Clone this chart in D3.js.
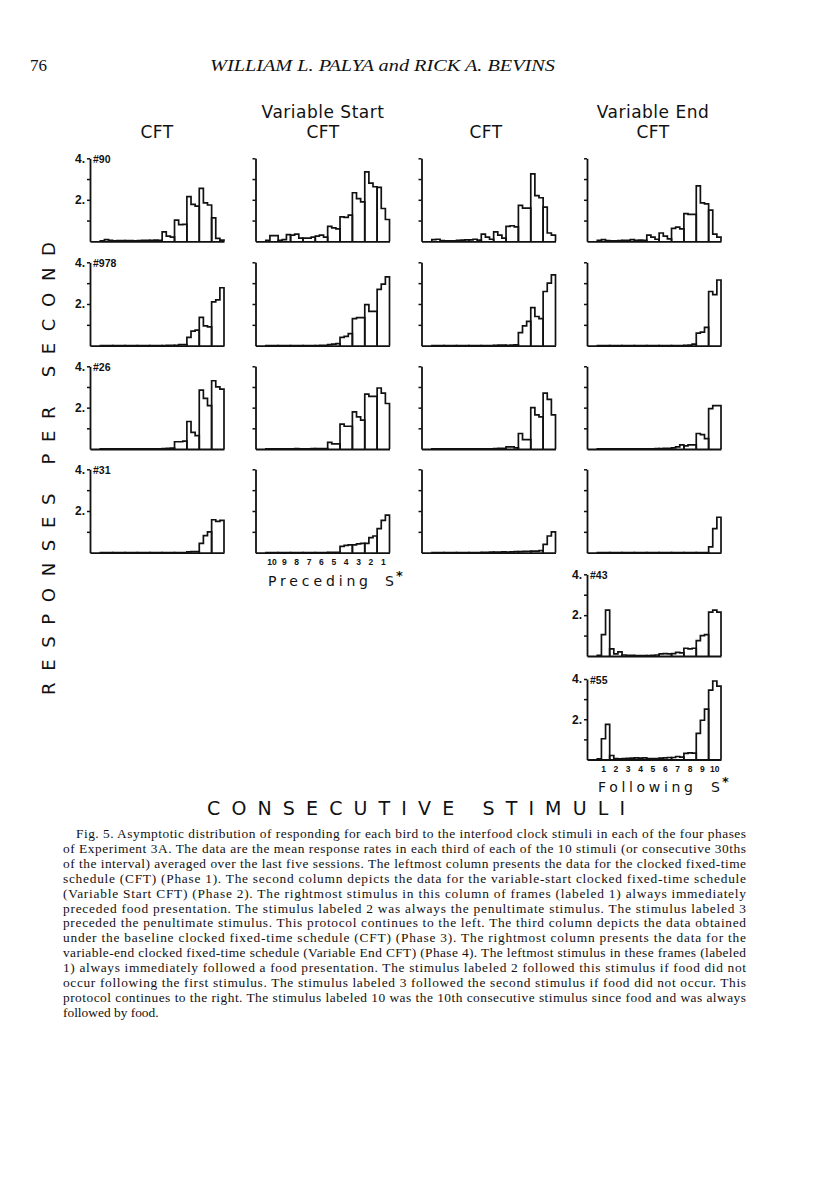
<!DOCTYPE html>
<html>
<head>
<meta charset="utf-8">
<script src="https://cdn.jsdelivr.net/npm/d3@7/dist/d3.min.js"></script>
<style>
body { margin: 0; background: #fff; }
svg text { fill: #111; }
</style>
</head>
<body>
<svg id="svg" width="816" height="1193"></svg>
<script>
// response rates per third of each stimulus (30 bins), leftmost stimulus first
var b90_cft    = [0.02,0.08,0.05, 0.02,0.03,0.03, 0.03,0.03,0.02, 0.03,0.05,0.04, 0.04,0.06,0.05, 0.45,0.25,0.20, 1.02,0.80,0.82, 2.15,1.78,1.70, 2.55,1.85,1.75, 1.13,0.14,0.06];
var b90_vstart = [0.05,0.27,0.27, 0.05,0.08,0.32, 0.30,0.35,0.15, 0.15,0.15,0.20, 0.25,0.30,0.20, 0.72,0.65,0.60, 1.18,1.15,1.26, 2.34,2.06,1.90, 3.35,2.80,2.63, 2.60,1.58,1.05];
var b90_cft2   = [0.08,0.10,0.03, 0.02,0.02,0.02, 0.05,0.06,0.07, 0.07,0.10,0.06, 0.35,0.20,0.10, 0.45,0.30,0.15, 0.72,0.75,0.70, 1.73,1.60,1.60, 3.25,2.20,2.10, 1.65,0.40,0.30];
var b90_vend   = [0.05,0.08,0.03, 0.02,0.02,0.03, 0.05,0.05,0.08, 0.05,0.06,0.05, 0.30,0.20,0.10, 0.40,0.25,0.12, 0.62,0.68,0.60, 1.33,1.30,1.30, 2.67,1.85,1.80, 1.50,0.35,0.20];

var b978_cft    = [0.01,0.01,0.01, 0.01,0.01,0.01, 0.01,0.01,0.01, 0.01,0.01,0.01, 0.01,0.01,0.01, 0.01,0.02,0.02, 0.02,0.05,0.05, 0.40,0.70,0.75, 1.36,0.95,0.90, 2.10,2.20,2.78];
var b978_vstart = [0.01,0.01,0.01, 0.01,0.01,0.01, 0.01,0.01,0.01, 0.01,0.01,0.01, 0.01,0.02,0.02, 0.05,0.08,0.10, 0.40,0.45,0.58, 1.30,1.35,1.35, 1.97,1.65,1.65, 2.70,2.95,3.30];
var b978_cft2   = [0.01,0.01,0.01, 0.01,0.01,0.01, 0.01,0.01,0.01, 0.01,0.01,0.01, 0.01,0.01,0.01, 0.02,0.03,0.03, 0.02,0.03,0.04, 0.63,0.95,1.17, 1.83,1.40,1.30, 2.60,3.00,3.40];
var b978_vend   = [0.01,0.01,0.01, 0.01,0.01,0.01, 0.01,0.01,0.01, 0.01,0.01,0.01, 0.01,0.01,0.01, 0.01,0.01,0.01, 0.01,0.01,0.01, 0.02,0.03,0.08, 0.60,0.65,0.88, 2.60,2.45,3.15];

var b26_cft    = [0.01,0.01,0.01, 0.01,0.01,0.01, 0.01,0.01,0.01, 0.01,0.01,0.01, 0.01,0.01,0.01, 0.02,0.03,0.04, 0.35,0.35,0.38, 1.33,0.80,0.65, 2.85,2.45,2.10, 3.30,3.00,2.90];
var b26_vstart = [0.01,0.01,0.01, 0.01,0.01,0.01, 0.01,0.02,0.01, 0.01,0.01,0.02, 0.02,0.02,0.02, 0.32,0.25,0.25, 1.20,1.10,1.10, 1.80,1.55,1.40, 2.65,2.55,2.55, 2.95,2.70,2.20];
var b26_cft2   = [0.01,0.01,0.01, 0.01,0.01,0.01, 0.01,0.01,0.01, 0.01,0.01,0.01, 0.01,0.01,0.01, 0.02,0.03,0.03, 0.10,0.10,0.05, 0.75,0.45,0.45, 2.00,1.65,1.55, 2.70,2.40,1.65];
var b26_vend   = [0.01,0.01,0.01, 0.01,0.01,0.01, 0.01,0.01,0.01, 0.01,0.01,0.01, 0.01,0.01,0.02, 0.02,0.03,0.03, 0.05,0.10,0.20, 0.15,0.20,0.20, 0.75,0.70,0.50, 1.95,2.10,2.10];

var b31_cft    = [0.01,0.01,0.01, 0.01,0.01,0.01, 0.01,0.01,0.01, 0.01,0.01,0.01, 0.01,0.01,0.01, 0.01,0.01,0.01, 0.01,0.01,0.01, 0.04,0.05,0.05, 0.45,0.82,1.00, 1.58,1.50,1.55];
var b31_vstart = [0.01,0.01,0.01, 0.01,0.01,0.01, 0.01,0.01,0.01, 0.01,0.01,0.01, 0.01,0.01,0.01, 0.02,0.02,0.02, 0.30,0.35,0.38, 0.38,0.42,0.45, 0.45,0.72,0.80, 1.15,1.55,1.80];
var b31_cft2   = [0.01,0.01,0.01, 0.01,0.01,0.01, 0.01,0.01,0.01, 0.01,0.01,0.01, 0.02,0.02,0.03, 0.03,0.03,0.04, 0.03,0.04,0.05, 0.05,0.06,0.07, 0.08,0.08,0.10, 0.40,0.80,1.00];
var b31_vend   = [0.01,0.01,0.01, 0.01,0.01,0.01, 0.01,0.01,0.01, 0.01,0.01,0.01, 0.01,0.01,0.01, 0.01,0.01,0.01, 0.01,0.01,0.01, 0.01,0.01,0.01, 0.01,0.01,0.01, 0.28,1.15,1.70];

var b43_vend = [0.03,1.05,2.25, 0.35,0.10,0.20, 0.05,0.03,0.03, 0.02,0.02,0.02, 0.02,0.03,0.05, 0.10,0.12,0.10, 0.12,0.18,0.15, 0.38,0.35,0.38, 0.75,1.00,1.05, 2.15,2.25,2.15];
var b55_vend = [0.03,1.03,1.75, 0.20,0.05,0.03, 0.05,0.06,0.07, 0.08,0.07,0.08, 0.05,0.04,0.05, 0.07,0.08,0.10, 0.10,0.15,0.12, 0.30,0.33,0.32, 1.30,1.95,2.50, 3.45,3.90,3.65];

var precedingLabels = ['10','9','8','7','6','5','4','3','2','1'];
var followingLabels = ['1','2','3','4','5','6','7','8','9','10'];
var yTicks = [1, 2, 3, 4];
var yLabelTicks = [2, 4];

// layout
var colLeft = [90, 255.5, 421.5, 587];
var panelW = 134;
var rowTop = [158.3, 262.3, 366.3, 469.3, 574.3, 679];
var rowBase = [241.3, 345.7, 449, 552.7, 656, 759.5];

var panels = [
    {row:0, col:0, data:b90_cft, bird:'#90'},
    {row:0, col:1, data:b90_vstart},
    {row:0, col:2, data:b90_cft2},
    {row:0, col:3, data:b90_vend},
    {row:1, col:0, data:b978_cft, bird:'#978'},
    {row:1, col:1, data:b978_vstart},
    {row:1, col:2, data:b978_cft2},
    {row:1, col:3, data:b978_vend},
    {row:2, col:0, data:b26_cft, bird:'#26'},
    {row:2, col:1, data:b26_vstart},
    {row:2, col:2, data:b26_cft2},
    {row:2, col:3, data:b26_vend},
    {row:3, col:0, data:b31_cft, bird:'#31'},
    {row:3, col:1, data:b31_vstart, xlabels:precedingLabels},
    {row:3, col:2, data:b31_cft2},
    {row:3, col:3, data:b31_vend},
    {row:4, col:3, data:b43_vend, bird:'#43'},
    {row:5, col:3, data:b55_vend, bird:'#55', xlabels:followingLabels}
];

var svg = d3.select('svg');
svg.append('rect').attr('width', 816).attr('height', 1193).attr('fill', '#fff');

var sans = "'DejaVu Sans', 'Liberation Sans', sans-serif";
var serif = "'Liberation Serif', 'DejaVu Serif', serif";
var boldSans = "'Liberation Sans', Arial, sans-serif";

panels.forEach(function(p){
    var top = rowTop[p.row], h = rowBase[p.row] - top;
    var x = d3.scaleLinear().domain([-2.5, 30]).range([0, panelW]);
    var y = d3.scaleLinear().domain([0, 4]).range([h, 0]);
    var g = svg.append('g').attr('transform', 'translate(' + colLeft[p.col] + ',' + top + ')');
    var showLabels = !!p.bird;

    var yAxis = g.append('g')
        .call(d3.axisLeft(y).tickValues(yTicks).tickSize(3).tickSizeOuter(0).tickPadding(2)
            .tickFormat(function(d){ return showLabels && yLabelTicks.indexOf(d) >= 0 ? d + '.' : ''; }));
    yAxis.select('.domain').attr('stroke', '#111').attr('stroke-width', 1.8);
    yAxis.selectAll('.tick line').attr('stroke', '#111').attr('stroke-width', 1.5);
    yAxis.selectAll('.tick text')
        .style('font-family', boldSans)
        .style('font-weight', 'bold').style('font-size', '12px').attr('fill', '#111');

    var xAxis = g.append('g').attr('transform', 'translate(0,' + h + ')')
        .call(d3.axisBottom(x).tickValues([]).tickSizeOuter(0));
    xAxis.select('.domain').attr('stroke', '#111').attr('stroke-width', 1.8);

    // one closed step outline per stimulus
    var line = d3.line()
        .x(function(d){ return x(d[0]); })
        .y(function(d){ return y(d[1]); })
        .curve(d3.curveStepAfter);
    for (var s = 0; s < 10; s++) {
        var v = p.data.slice(s * 3, s * 3 + 3);
        var pts = [[s*3, 0], [s*3, v[0]], [s*3+1, v[1]], [s*3+2, v[2]], [s*3+3, 0]];
        g.append('path').attr('d', line(pts))
            .attr('fill', 'none').attr('stroke', '#111')
            .attr('stroke-width', 1.7).attr('stroke-linejoin', 'miter');
    }

    if (p.bird) {
        g.append('text').text(p.bird)
            .attr('x', 3).attr('y', 4.5)
            .style('font-family', boldSans)
            .style('font-weight', 'bold').style('font-size', '10.5px');
    }

    if (p.xlabels) {
        g.selectAll('text.stim')
            .data(p.xlabels)
            .enter()
            .append('text')
            .attr('class', 'stim')
            .attr('x', function(d, i){ return x(i * 3 + 1.5); })
            .attr('y', h + 12.5)
            .attr('text-anchor', 'middle')
            .style('font-family', boldSans)
            .style('font-weight', 'bold').style('font-size', '8.5px')
            .text(function(d){ return d; });
    }
});

// axis captions under the stimulus labels
function sLabel(word, x0, len, base, sx, ax){
    svg.append('text').text(word)
        .attr('x', x0).attr('y', base)
        .attr('textLength', len).attr('lengthAdjust', 'spacing')
        .style('font-family', sans).style('font-size', '14px');
    svg.append('text').text('S')
        .attr('x', sx).attr('y', base)
        .style('font-family', sans).style('font-size', '14px');
    svg.append('text').text('*')
        .attr('x', ax).attr('y', base - 6)
        .style('font-family', sans).style('font-weight', 'bold').style('font-size', '13px');
}
sLabel('Preceding', 268, 100, 586, 385, 396);
sLabel('Following', 598, 95, 792, 711, 722);

// column titles
var titles = [
    {t:'CFT', x:157, y:138},
    {t:'Variable Start', x:323, y:118},
    {t:'CFT', x:323, y:138},
    {t:'CFT', x:486, y:138},
    {t:'Variable End', x:653, y:118},
    {t:'CFT', x:653, y:138}
];
svg.selectAll('text.title')
    .data(titles)
    .enter()
    .append('text')
    .attr('class', 'title')
    .attr('x', function(d){ return d.x; })
    .attr('y', function(d){ return d.y; })
    .attr('text-anchor', 'middle')
    .style('font-family', sans).style('font-size', '17px').style('letter-spacing', '0.5px')
    .text(function(d){ return d.t; });

// y axis caption
svg.append('text').text('RESPONSES PER SECOND')
    .attr('transform', 'translate(55,695) rotate(-90)')
    .attr('textLength', 453).attr('lengthAdjust', 'spacing')
    .style('font-family', sans).style('font-size', '18px');

// x axis caption
svg.append('text').text('CONSECUTIVE STIMULI')
    .attr('x', 207).attr('y', 815)
    .attr('textLength', 418).attr('lengthAdjust', 'spacing')
    .style('font-family', sans).style('font-size', '19px');

// running head
svg.append('text').text('76').attr('x', 30).attr('y', 71)
    .style('font-family', serif).style('font-size', '17px');
svg.append('text').text('WILLIAM L. PALYA and RICK A. BEVINS')
    .attr('x', 210).attr('y', 71)
    .attr('textLength', 345).attr('lengthAdjust', 'spacingAndGlyphs')
    .style('font-family', serif).style('font-style', 'italic').style('font-size', '16px');

// figure caption
var caption = [
    'Fig. 5.  Asymptotic distribution of responding for each bird to the interfood clock stimuli in each of the four phases',
    'of Experiment 3A. The data are the mean response rates in each third of each of the 10 stimuli (or consecutive 30ths',
    'of the interval) averaged over the last five sessions. The leftmost column presents the data for the clocked fixed-time',
    'schedule (CFT) (Phase 1). The second column depicts the data for the variable-start clocked fixed-time schedule',
    '(Variable Start CFT) (Phase 2). The rightmost stimulus in this column of frames (labeled 1) always immediately',
    'preceded food presentation. The stimulus labeled 2 was always the penultimate stimulus. The stimulus labeled 3',
    'preceded the penultimate stimulus. This protocol continues to the left. The third column depicts the data obtained',
    'under the baseline clocked fixed-time schedule (CFT) (Phase 3). The rightmost column presents the data for the',
    'variable-end clocked fixed-time schedule (Variable End CFT) (Phase 4). The leftmost stimulus in these frames (labeled',
    '1) always immediately followed a food presentation. The stimulus labeled 2 followed this stimulus if food did not',
    'occur following the first stimulus. The stimulus labeled 3 followed the second stimulus if food did not occur. This',
    'protocol continues to the right. The stimulus labeled 10 was the 10th consecutive stimulus since food and was always',
    'followed by food.'
];
caption.forEach(function(line, i){
    var x0 = i === 0 ? 76 : 63;
    var t = svg.append('text').text(line)
        .attr('x', x0).attr('y', 838 + i * 14.9)
        .style('font-family', serif).style('font-size', '13.4px');
    if (i < caption.length - 1) {
        t.attr('textLength', 746 - x0).attr('lengthAdjust', 'spacing');
    }
});
</script>
</body>
</html>
